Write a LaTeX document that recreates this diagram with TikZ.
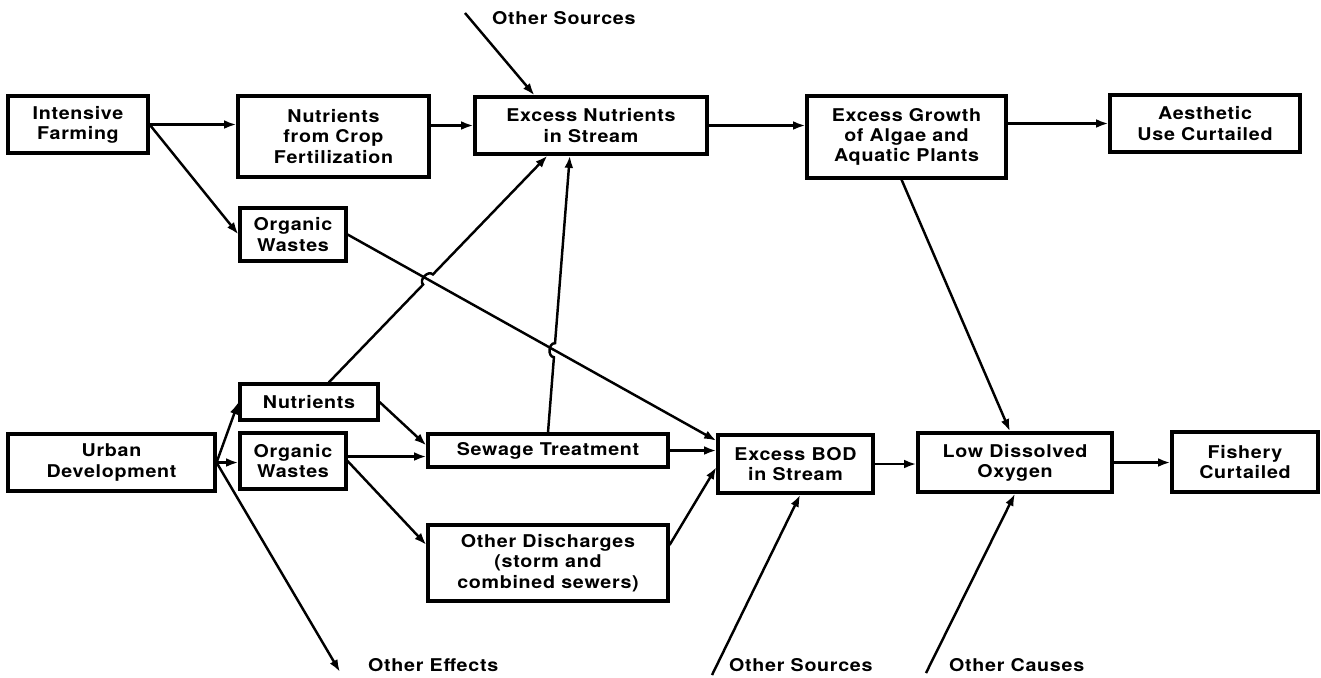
\documentclass[tikz,border=0pt]{standalone}
\usepackage{fontspec}
\setmainfont{TeX Gyre Heros}[FakeStretch=1.12,LetterSpace=4]
\usetikzlibrary{arrows.meta,calc,intersections}

\begin{document}
\begin{tikzpicture}[x=0.02cm, y=-0.02cm,
  every node/.style={font=\fontsize{10}{11.5}\selectfont\bfseries},
  box/.style={draw, line width=1.8pt, align=center, inner sep=0pt},
  arr/.style={line width=1.4pt, -{Latex[length=7pt,width=5pt]}},
  hop/.style={bend left=90, looseness=1.2}]
\useasboundingbox (0,0) rectangle (1321,677);
% upper row
\node[box, minimum width=2.8cm, minimum height=1.14cm] (ifarm) at (78,124.5) {Intensive\\Farming};
\node[box, minimum width=3.82cm, minimum height=1.62cm] (ncrop) at (333.5,136.5) {Nutrients\\from Crop\\Fertilization};
\node[box, minimum width=2.12cm, minimum height=1.06cm] (owA) at (293,234.5) {Organic\\Wastes};
\node[box, minimum width=4.64cm, minimum height=1.14cm] (xnut) at (591,125.5) {Excess Nutrients\\in Stream};
\node[box, minimum width=3.98cm, minimum height=1.64cm] (xgrow) at (906.5,137) {Excess Growth\\of Algae and\\Aquatic Plants};
\node[box, minimum width=3.8cm, minimum height=1.14cm] (aest) at (1205,123.5) {Aesthetic\\Use Curtailed};
% lower row
\node[box, minimum width=4.14cm, minimum height=1.14cm] (urban) at (111.5,462.5) {Urban\\Development};
\node[box, minimum width=2.76cm, minimum height=0.72cm] (nutB) at (309,402) {Nutrients};
\node[box, minimum width=2.12cm, minimum height=1.12cm] (owB) at (293,461) {Organic\\Wastes};
\node[box, minimum width=4.8cm, minimum height=0.66cm] (sewage) at (548,450.5) {Sewage Treatment};
\node[box, minimum width=4.8cm, minimum height=1.52cm] (odis) at (548,563) {Other Discharges\\(storm and\\combined sewers)};
\node[box, minimum width=3.1cm, minimum height=1.16cm] (bod) at (795.5,464) {Excess BOD\\in Stream};
\node[box, minimum width=3.88cm, minimum height=1.18cm] (lowdo) at (1015,462.5) {Low Dissolved\\Oxygen};
\node[box, minimum width=2.92cm, minimum height=1.2cm] (fish) at (1245,462) {Fishery\\Curtailed};
% outside influences
\node[anchor=west] (srcA) at (486,18) {Other Sources};
\node[anchor=west] (effects) at (362,665) {Other Effects};
\node[anchor=west] (srcB) at (723,665) {Other Sources};
\node[anchor=west] (causes) at (943,665) {Other Causes};
\coordinate (srcAend) at (465,13);
\coordinate (effend) at (340,672);
\coordinate (srcBend) at (712,675);
\coordinate (causend) at (926,673);
% points on box edges
\coordinate (xnutTop) at ($(xnut.north west)!0.26!(xnut.north east)$);
\coordinate (xnutL) at ($(xnut.south west)!0.315!(xnut.south east)$);
\coordinate (xnutR) at ($(xnut.south west)!0.41!(xnut.south east)$);
\coordinate (nutBtop) at ($(nutB.north west)!0.64!(nutB.north east)$);
\coordinate (bodTop) at ($(bod.north west)!0.12!(bod.south west)$);
\coordinate (sewHi) at ([yshift=0.1cm]sewage.west);
\coordinate (sewLo) at ([yshift=-0.12cm]sewage.west);
\coordinate (odisL) at ([yshift=0.36cm]odis.west);
\coordinate (odisR) at ([yshift=0.36cm]odis.east);
\coordinate (bodLo) at ([yshift=-0.06cm]bod.west);
% connectors
\draw[arr] (ifarm.east) -- (ifarm.east -| ncrop.west);
\draw[arr] (ifarm.east) -- (owA.west);
\draw[arr] (ncrop.east |- xnut.west) -- (xnut.west);
\draw[arr] (xnut.east) -- (xnut.east -| xgrow.west);
\draw[arr] (xgrow.east |- aest.west) -- (aest.west);
\draw[arr] ([xshift=-0.1cm]xgrow.south) -- ([xshift=-0.1cm]lowdo.north);
\draw[arr] (srcAend) -- (xnutTop);
\draw[arr, name path=owline] (owA.east) -- (bodTop);
\path[name path=nutline] (nutBtop) -- (xnutL);
\path[name path=sewline] (sewage.north) -- (xnutR);
\path[name intersections={of=owline and nutline, by=hopA}];
\path[name intersections={of=owline and sewline, by=hopB}];
\draw[arr] (nutBtop) -- ($(hopA)!4pt!(nutBtop)$) to[hop] ($(hopA)!4pt!(xnutL)$) -- (xnutL);
\draw[arr] (sewage.north) -- ($(hopB)!4pt!(sewage.north)$) to[hop] ($(hopB)!4pt!(xnutR)$) -- (xnutR);
\draw[arr] (urban.east) -- (nutB.west);
\draw[arr] (urban.east) -- (urban.east -| owB.west);
\draw[arr] (urban.east) -- (effend);
\draw[arr] (nutB.east) -- (sewHi);
\draw[arr] (owB.east |- sewLo) -- (sewLo);
\draw[arr] (owB.east) -- (odisL);
\draw[arr] (sewage.east) -- (sewage.east -| bod.west);
\draw[arr] (odisR) -- (bodLo);
\draw[arr] (srcBend) -- ($(bod.south west)!0.53!(bod.south east)$);
\draw[arr] (bod.east) -- (bod.east -| lowdo.west);
\draw[arr] (causend) -- (lowdo.south);
\draw[arr] (lowdo.east) -- (lowdo.east -| fish.west);
\end{tikzpicture}
\end{document}
